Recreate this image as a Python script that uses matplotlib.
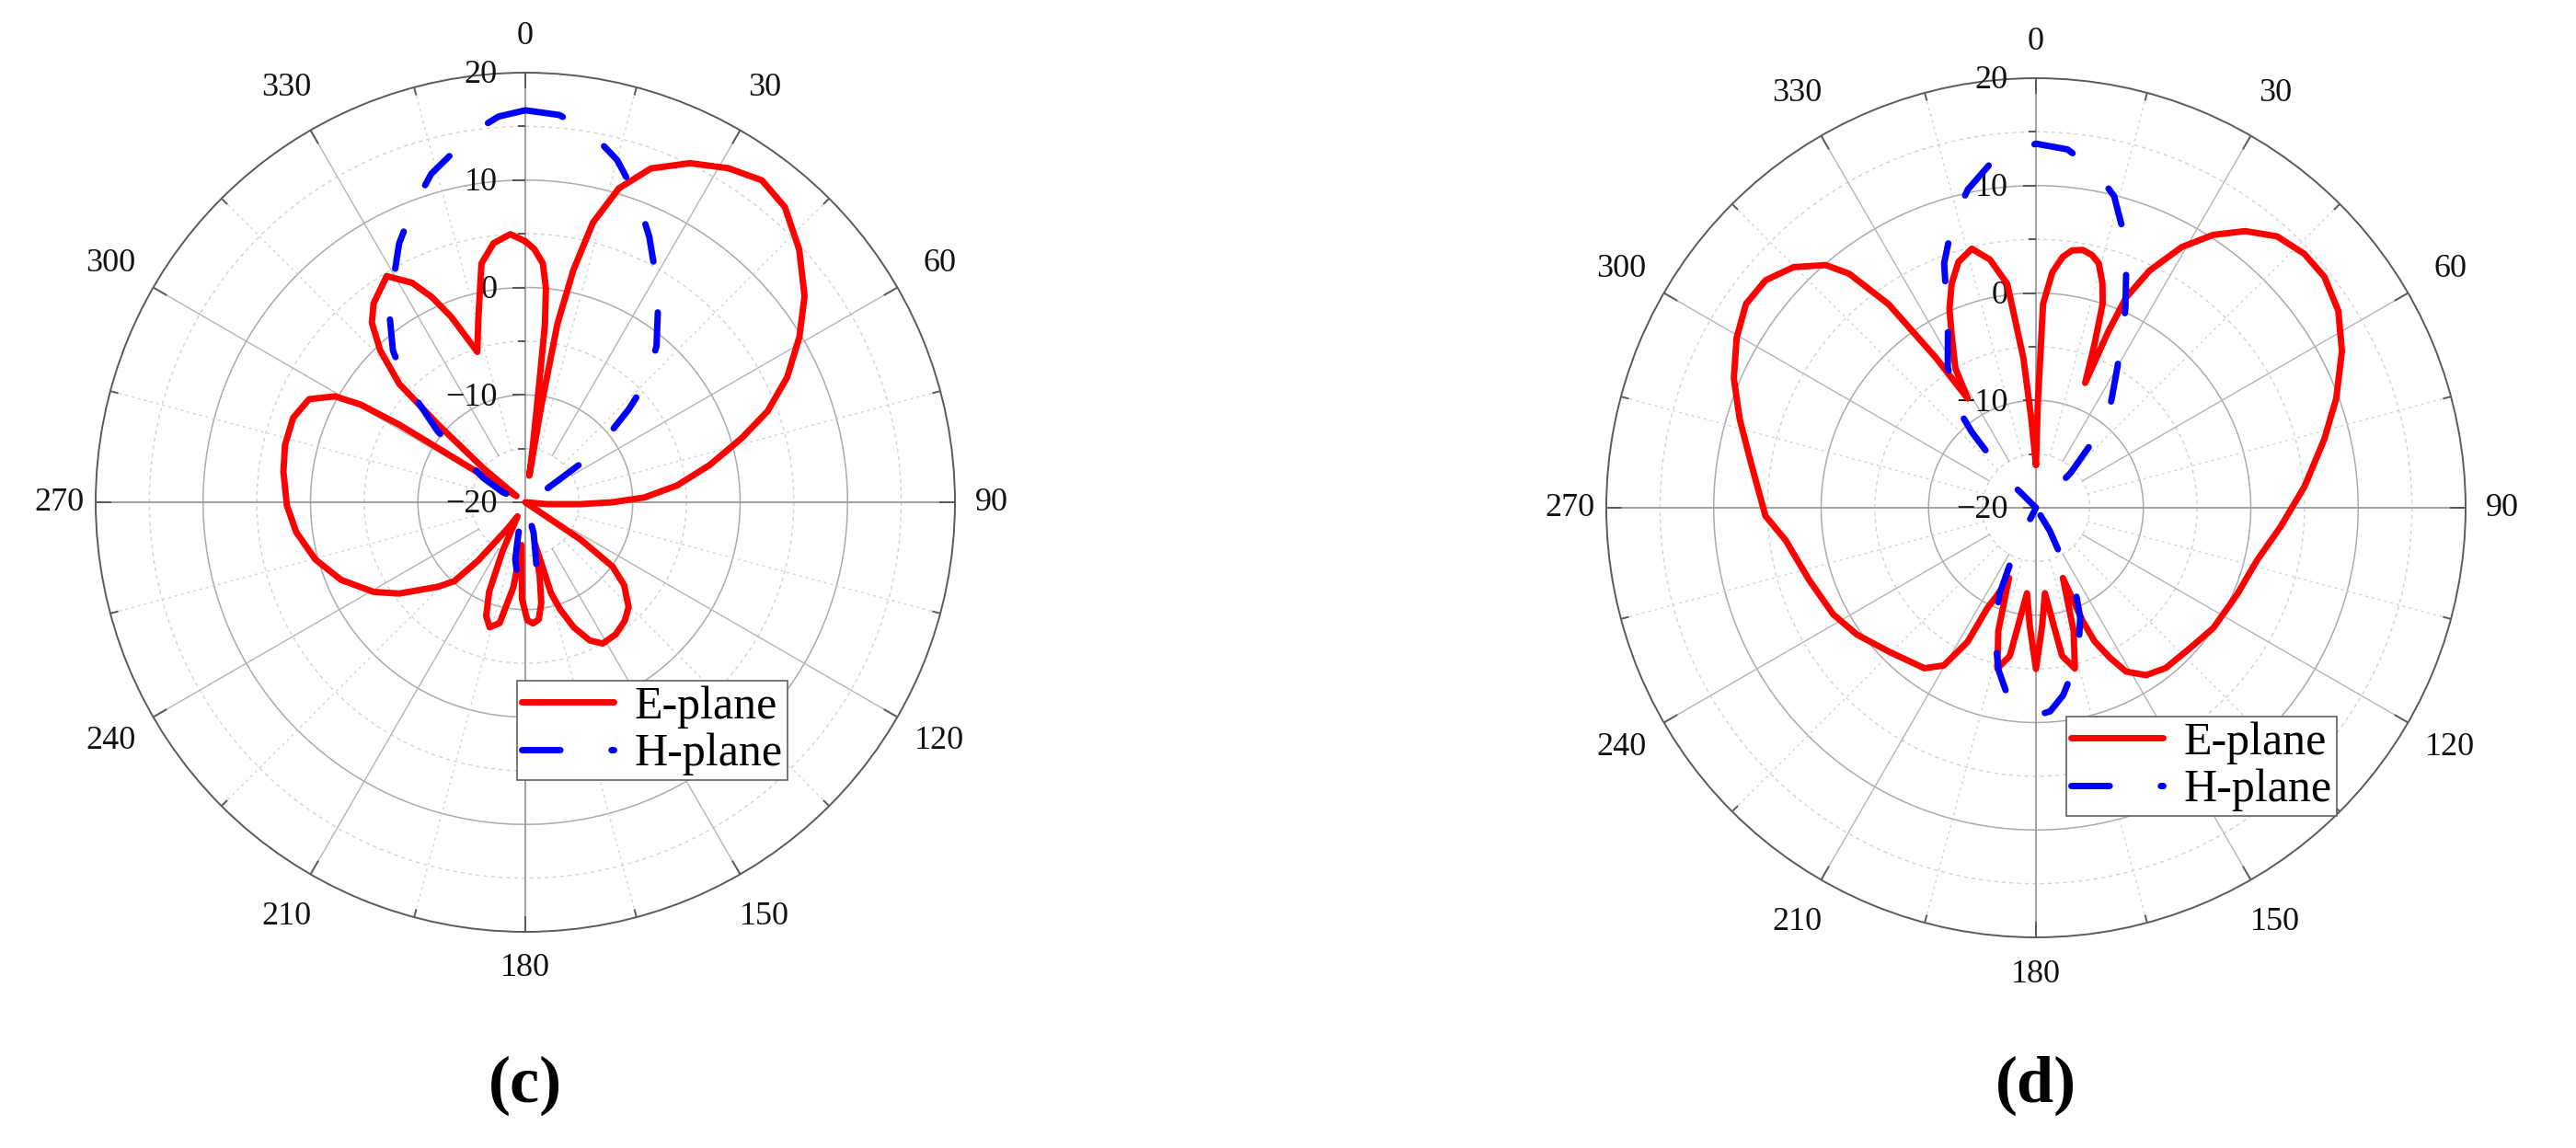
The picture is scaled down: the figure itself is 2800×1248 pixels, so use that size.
import numpy as np
import matplotlib.pyplot as plt

plt.rcParams['font.family'] = ['Liberation Serif', 'DejaVu Serif']

# ---------------------------------------------------------------------------
# Radiation patterns: angle (deg, clockwise from top), gain (dB)
# ---------------------------------------------------------------------------
# (c) E-plane
c_e_ang = [0, 2, 4.2, 5.5, 6.3, 6.7, 7.7, 8.6, 9.4, 10.2, 11.7, 13.6, 16.6, 20.6, 25.9, 31.3,
           36.3, 41.3, 47.3, 53.6, 58.9, 64.5, 69.4, 73.5, 78.6, 83.7, 87.7, 90, 92, 95, 100,
           118, 124, 126.4, 130, 135.4, 140, 145.5, 151.3, 155, 158.8, 162, 164.2, 165.5, 167,
           169, 171, 173.5, 176.4, 179, 182, 185, 188, 192, 195.9, 199, 202, 205, 209, 214,
           219, 222, 225.9, 234.1, 239.4, 247.1, 254.7, 262.5, 269.2, 277.2, 283.4, 290,
           295.5, 299.1, 300.7, 301.6, 301.8, 302.1, 305, 309, 311.7, 313.2, 316.3, 319.5,
           322.7, 328.5, 332.7, 335.5, 338.2, 342.3, 345.5, 349.6, 353, 356.8, 360]
c_e_db = [4.3, 3.6, 2.3, 0, -3.4, -9.1, -14.9, -17.5, -11, -3.1, 2.1, 6.8, 10.5, 13.2, 15.1,
          16.4, 17.2, 16.6, 14.7, 12.3, 9.8, 7.0, 4.1, 1.0, -2.5, -5.8, -8.9, -11.9, -14.9, -18,
          -20, -20, -13.8, -9.9, -8.0, -6.3, -5.6, -5.1, -5.0, -5.8, -7.5, -9.5, -11.2, -14.5,
          -16, -13, -10.5, -9.0, -8.7, -9.0, -11, -16, -12, -8.5, -7.9, -8.8, -11, -15, -18.5,
          -17, -13, -10.1, -8.7, -5.5, -3.6, -1.4, 0.25, 1.5, 2.2, 2.7, 3.0, 3.0, 2.3, 0.28,
          -2.2, -6.2, -10.5, -14.7, -19, -15, -9.1, -3.9, -0.45, 2.0, 3.3, 4.7, 3.0, 1.0, -1.4,
          -5.3, -2.5, 2.6, 4.3, 5.0, 4.3]

# (c) H-plane
c_h_ang = [0, 5, 10, 15, 20, 25, 30, 35, 40, 45, 48, 51.5, 55, 58, 60, 160, 165, 170, 175,
           180, 185, 190, 195, 200, 290, 294, 300, 305.6, 309, 314.7, 318.9, 324, 328.9, 334,
           339, 344, 347.9, 352, 356, 360]
c_h_db = [16.5, 16.2, 15.0, 13.0, 10.3, 7.3, 4.3, 1.5, -1.0, -4.0, -7.0, -10.4, -13.4, -17.6,
          -20, -20, -17, -14, -12.3, -12, -12.5, -14.6, -18, -20, -20, -17.7, -15.5, -13,
          -9.5, -4.4, -1.25, 1.5, 3.85, 6.8, 9.3, 11.8, 13.1, 14.8, 16.0, 16.5]

# (d) E-plane
d_e_ang = [0, 1, 2, 4, 6.1, 8, 10.3, 12.5, 14.4, 16.5, 18.1, 19.7, 21.5, 22.3, 23.2, 25.6,
           29.2, 33, 37.1, 41.6, 46.6, 51.3, 56.9, 62.9, 70, 76.6, 85.4, 94.4, 103.4, 113.2,
           124.1, 132.4, 141, 146.7, 151.2, 153.7, 156.3, 157.6, 159, 163, 166.4, 170, 174,
           177, 180, 183, 186, 190, 193.5, 197, 201, 204, 205.8, 207, 210.3, 214.8, 225.7,
           234.7, 242.3, 252.2, 262.6, 268.3, 279.6, 286.7, 293.2, 299.6, 305.1, 310.1, 314.8,
           319.1, 321.4, 324.1, 326.3, 328, 330, 333.7, 336.5, 339.4, 342.5, 346.1, 349.5,
           352.7, 355.2, 357, 360]
d_e_db = [-16, -10.4, -1.0, 2.0, 3.5, 4.2, 4.4, 4.1, 3.5, 1.8, 0.0, -3.85, -7.5, -2.3, 1.3,
          4.5, 7.8, 10.3, 12.3, 13.8, 14.4, 14.4, 13.6, 12.0, 9.75, 7.6, 5.1, 2.85, 1.15, 0.4,
          -0.05, -0.6, -0.8, -1.35, -2.6, -4.4, -6.4, -8.6, -13, -8, -4.6, -6, -12, -9, -5, -9,
          -12, -6, -4.6, -8, -13, -11, -9.7, -6.0, -3.0, -1.8, -0.84, 0.43, 1.33, 2.15, 3.5,
          5.2, 7.0, 8.8, 10.6, 12.05, 13.0, 12.9, 11.8, 9.9, 7.9, 3.4, -3.2, -8, -5, -2.35,
          0.2, 2.3, 4.0, 4.85, 3.5, 1.0, -6.0, -11.7, -16]

# (d) H-plane
d_h_ang = [0, 5, 9.8, 14.1, 17.5, 20.8, 24, 26.9, 31, 36, 40.4, 44.8, 46, 48, 145, 149, 154,
           158, 162.2, 167, 171.8, 176, 180, 184, 188.6, 193, 196.8, 200, 202.9, 207, 210, 310,
           314.8, 319.7, 322, 328, 334.4, 339.4, 343.5, 347.9, 353, 360]
d_h_db = [13.9, 13.5, 12.0, 9.9, 7.0, 3.65, 0.5, -2.2, -5.5, -8.2, -11.6, -15.4, -18, -20, -20,
          -17.5, -11.75, -9.0, -6.9, -4.5, -2.35, -1.0, -0.65, -1.0, -2.3, -4.5, -7.0, -9.0,
          -11.3, -16, -20, -20, -16.3, -10.8, -7.9, -4.5, -1.05, 4.3, 7.5, 10.3, 12.6, 13.9]

r_labels = ['20', '10', '0', '\u221210', '\u221220']
r_major = [20, 10, 0, -10, -20]
r_minor = [15, 5, -5, -15]

R_MIN, R_MAX = -20, 20
DB_PER_PX = 40 / 467.0   # scale of the reference (467 px radius for 40 dB)

fig = plt.figure(figsize=(28, 12.48), dpi=100)


def draw_panel(rect, e_ang, e_db, h_ang, h_db, legend_xy, tag):
    ax = fig.add_axes(rect, projection='polar')
    ax.set_theta_zero_location('N')
    ax.set_theta_direction(-1)
    ax.set_ylim(R_MIN, R_MAX)
    ax.set_xticks([])
    ax.set_yticks([])
    ax.grid(False)
    ax.spines['polar'].set_color('#5a5a5a')
    ax.spines['polar'].set_linewidth(1.4)

    full = np.linspace(0, 2 * np.pi, 721)
    # grid circles
    for r in [-10, 0, 10]:
        ax.plot(full, np.full_like(full, r), color='#ababab', lw=1.1, zorder=1)
    for r in r_minor:
        ax.plot(full, np.full_like(full, r), color='#d2d2d2', lw=1.0, ls=(0, (3, 3)), zorder=1)
    # spokes
    for a in range(0, 360, 15):
        t = np.deg2rad(a)
        if a % 90 == 0:
            ax.plot([t, t], [R_MIN, R_MAX], color='#9a9a9a', lw=1.3, zorder=1)
        elif a % 30 == 0:
            ax.plot([t, t], [-15, R_MAX], color='#b5b5b5', lw=1.0, zorder=1)
        else:
            ax.plot([t, t], [-15, R_MAX], color='#d2d2d2', lw=1.0, ls=(0, (2, 3)), zorder=1)
        # rim ticks pointing inward
        tick_len = 16 if a % 30 == 0 else 8
        ax.plot([t, t], [R_MAX - tick_len * DB_PER_PX, R_MAX], color='#5a5a5a', lw=1.4, zorder=2)
        # angle labels
        if a % 30 == 0:
            rad_px = 507 if a % 90 == 0 else 520
            ax.text(t, R_MIN + rad_px * DB_PER_PX, str(a), fontsize=26,
                    ha='center', va='center', color='#111111')

    # radial ticks on the 0-deg axis, pointing left
    left_tick = [(-1, 0), (0, 0)]
    ax.plot(np.zeros(len(r_major)), r_major, ls='none', marker=left_tick, markersize=20,
            markeredgewidth=1.4, color='#5a5a5a', zorder=2)
    ax.plot(np.zeros(len(r_minor)), r_minor, ls='none', marker=left_tick, markersize=11,
            markeredgewidth=1.4, color='#5a5a5a', zorder=2)
    for r, lab in zip(r_major, r_labels):
        ax.annotate(lab, xy=(0, r), xytext=(-22, -2), textcoords='offset points',
                    ha='right', va='center', fontsize=26, color='#111111')

    e_line, = ax.plot(np.deg2rad(e_ang), e_db, color='#ff0000', lw=5, zorder=4,
                      solid_capstyle='round', solid_joinstyle='round', label='E-plane')
    h_line, = ax.plot(np.deg2rad(h_ang), h_db, color='#0000ff', lw=5, zorder=5,
                      dashes=(6, 8), dash_capstyle='round', label='H-plane')

    leg = ax.legend(handles=[e_line, h_line], loc='lower left', bbox_to_anchor=legend_xy,
                    bbox_transform=fig.transFigure, borderaxespad=0, fontsize=36,
                    handlelength=2.0, handletextpad=0.45, borderpad=0.1, labelspacing=0.1,
                    fancybox=False, framealpha=1, edgecolor='#606060')
    leg.get_frame().set_linewidth(1.2)
    leg.set_zorder(10)

    fig.text(rect[0] + rect[2] / 2, 0.054, tag, fontsize=52, fontweight='bold',
             ha='center', va='center')
    return ax


draw_panel([0.037143, 0.18830, 0.33357, 0.74840], c_e_ang, c_e_db, c_h_ang, c_h_db,
           (0.20071, 0.32051), '(c)')
draw_panel([0.62357, 0.18349, 0.33357, 0.74840], d_e_ang, d_e_db, d_h_ang, d_h_db,
           (0.80214, 0.28926), '(d)')

fig.savefig('out.png', dpi=100)
